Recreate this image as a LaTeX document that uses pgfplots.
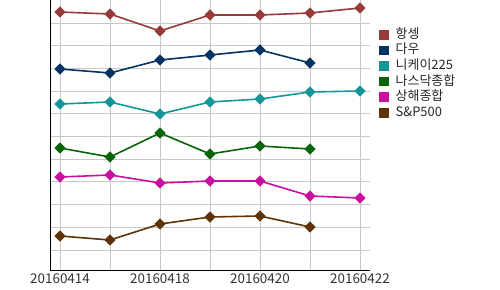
\documentclass[border=0pt]{standalone}
\usepackage{pgfplots}
\pgfplotsset{compat=1.18}
\usepackage{fontspec}
\setmainfont{Noto Sans CJK KR}
\definecolor{chs}{RGB}{150,58,58}
\definecolor{cdow}{RGB}{5,52,100}
\definecolor{cnik}{RGB}{20,150,152}
\definecolor{cnas}{RGB}{8,100,8}
\definecolor{csh}{RGB}{200,15,160}
\definecolor{csp}{RGB}{96,50,10}
\definecolor{gridc}{RGB}{200,200,200}
\begin{document}
\begin{tikzpicture}
\useasboundingbox (0,0) rectangle (500bp,290bp);
\begin{axis}[
  at={(50bp,20bp)}, anchor=south west,
  scale only axis, width=320bp, height=270bp,
  xmin=-0.2, xmax=6.2, ymin=0, ymax=270,
  axis x line*=bottom, axis y line*=left,
  axis line style={black, line width=1bp, -},
  xtick={0,1,2,3,4,5,6},
  xticklabels={20160414,,20160418,,20160420,,20160422},
  ytick={20,42.7,65.4,88.1,110.8,133.5,156.2,178.9,201.6,224.3,247},
  yticklabels={},
  major tick length=0pt,
  grid=major, grid style={gridc, line width=0.8bp},
  ticklabel style={font=\fontsize{13.5}{15}\selectfont, text=black!80},
  xticklabel style={yshift=-0.5bp},
  every axis plot/.append style={line width=1.6bp, mark=square*, mark size=3.1bp, mark options={rotate=45, solid, fill=.}},
  legend cell align=left,
  legend style={at={(1.028,0.898)}, anchor=north west, draw=none, fill=none, inner sep=0pt,
    font=\fontsize{13}{14}\selectfont, row sep=1.3bp,
    nodes={inner ysep=0.5bp, text height=10bp, text depth=3.3bp, text=black!85},
    /tikz/every odd column/.append style={column sep=5bp}},
  legend image code/.code={\fill[#1] (0bp,-4bp) rectangle (8bp,4bp);},
  clip=false,
]
\addplot[chs] coordinates {(0,258) (1,256) (2,239) (3,255) (4,255) (5,257) (6,262)};
\addlegendentry{항셍}
\addplot[cdow] coordinates {(0,201) (1,197) (2,210) (3,215) (4,220) (5,207)};
\addlegendentry{다우}
\addplot[cnik] coordinates {(0,166) (1,168) (2,156) (3,168) (4,171) (5,178) (6,179)};
\addlegendentry{니케이225}
\addplot[cnas] coordinates {(0,122) (1,113) (2,137) (3,116) (4,124) (5,121)};
\addlegendentry{나스닥종합}
\addplot[csh] coordinates {(0,93) (1,95) (2,87) (3,89) (4,89) (5,74) (6,72)};
\addlegendentry{상해종합}
\addplot[csp] coordinates {(0,34) (1,30) (2,46) (3,53) (4,54) (5,43)};
\addlegendentry{S\&P500}
\end{axis}
\end{tikzpicture}
\end{document}
